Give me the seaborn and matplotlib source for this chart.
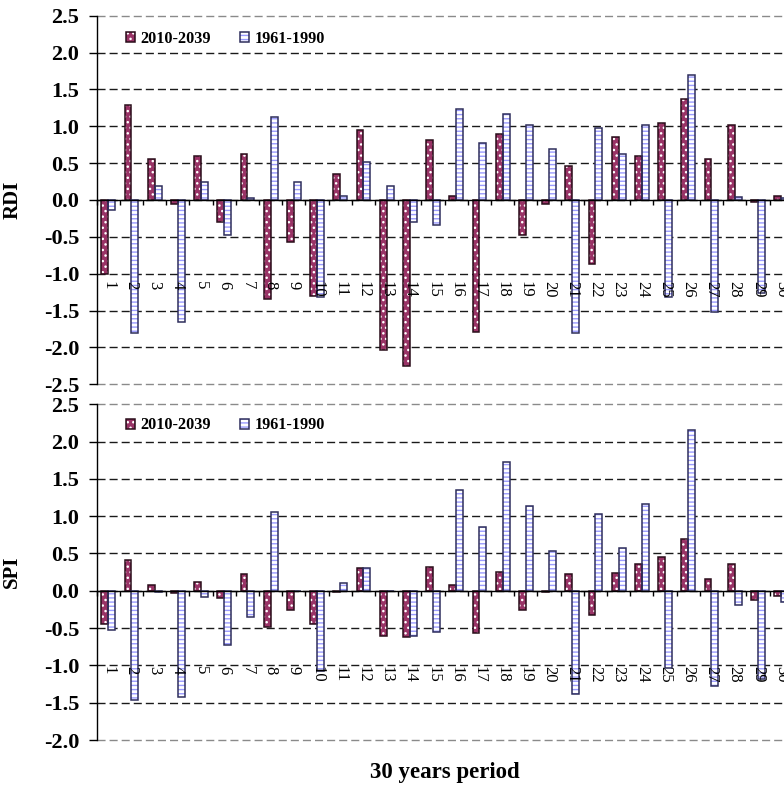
import numpy as np
import pandas as pd
import matplotlib
matplotlib.use("Agg")
import matplotlib.pyplot as plt
from matplotlib.patches import Patch, Rectangle
from matplotlib.ticker import FixedLocator
import seaborn as sns

# ---------------- data ----------------
periods = [str(i) for i in range(1, 31)]
series_names = ["2010-2039", "1961-1990"]

rdi_2010 = [-1.00, 1.29, 0.55, -0.05, 0.60, -0.30, 0.62, -1.34, -0.57, -1.30,
            0.35, 0.95, -2.04, -2.25, 0.82, 0.06, -1.79, 0.89, -0.47, -0.05,
            0.46, -0.87, 0.86, 0.59, 1.05, 1.37, 0.55, 1.02, -0.03, 0.05]
rdi_1961 = [-0.13, -1.80, 0.19, -1.66, 0.24, -0.48, 0.03, 1.13, 0.25, -1.31,
            0.05, 0.52, 0.19, -0.30, -0.34, 1.24, 0.77, 1.16, 1.02, 0.69,
            -1.81, 0.98, 0.62, 1.02, -1.31, 1.70, -1.52, 0.04, -1.26, 0.03]
spi_2010 = [-0.45, 0.41, 0.08, -0.03, 0.12, -0.09, 0.22, -0.48, -0.26, -0.45,
            -0.01, 0.30, -0.61, -0.62, 0.32, 0.08, -0.57, 0.25, -0.26, -0.01,
            0.22, -0.32, 0.24, 0.36, 0.45, 0.70, 0.16, 0.36, -0.12, -0.07]
spi_1961 = [-0.53, -1.46, -0.01, -1.42, -0.08, -0.72, -0.35, 1.05, 0.00, -1.08,
            0.11, 0.31, 0.00, -0.60, -0.55, 1.35, 0.85, 1.72, 1.14, 0.54,
            -1.38, 1.03, 0.58, 1.16, -1.03, 2.15, -1.28, -0.19, -1.18, -0.15]

x_title = "30 years period"

# ---------------- style ----------------
sns.set_theme(style="white")
plt.rcParams['font.family'] = ['Liberation Serif', 'DejaVu Serif']
plt.rcParams['axes.unicode_minus'] = False
plt.rcParams['hatch.linewidth'] = 1.0
for k in ['text.color', 'axes.labelcolor', 'xtick.color', 'ytick.color', 'axes.edgecolor']:
    plt.rcParams[k] = 'black'

MAROON = '#993366'
STYLES = [dict(face=MAROON, hatch='...', hc='white', ec='#2a0d1a'),
          dict(face='white', hatch='----', hc='#9a9aff', ec='#2e2e5c')]

fig = plt.figure(figsize=(7.84, 7.87), dpi=100)
ax1 = fig.add_axes([0.1233, 0.5117, 0.8878, 0.4684])
ax2 = fig.add_axes([0.1233, 0.0597, 0.8878, 0.4266])


def draw(ax, v_new, v_old, ylim, ylabel, label_pad):
    df = pd.DataFrame({
        'period': periods * 2,
        'value': list(v_new) + list(v_old),
        'series': [series_names[0]] * len(periods) + [series_names[1]] * len(periods),
    })
    sns.barplot(data=df, x='period', y='value', hue='series', order=periods,
                hue_order=series_names, palette=[s['face'] for s in STYLES],
                width=0.6, errorbar=None, legend=False, saturation=1, ax=ax)
    for cont, st in zip(ax.containers, STYLES):
        for p in cont:
            p.set_hatch(st['hatch'])
            p.set_edgecolor(st['hc'])
            p.set_linewidth(0)
            ax.add_patch(Rectangle(p.get_xy(), p.get_width(), p.get_height(),
                                   fill=False, edgecolor=st['ec'], linewidth=1.1,
                                   zorder=p.get_zorder() + 0.01))

    n = len(periods)
    ax.set_xlim(-0.5, n - 0.5)
    ax.set_ylim(*ylim)
    yt = np.arange(ylim[0], ylim[1] + 0.001, 0.5)
    ax.set_yticks(yt, [f'{t:.1f}' for t in yt], fontsize=16, fontweight='bold')

    ax.grid(axis='y', color='#1a1a1a', linestyle=(0, (5.8, 2.9)), linewidth=1.0)
    ax.grid(axis='x', visible=False)
    ax.set_axisbelow(True)
    # category labels / zero line drawn over the bars, grid stays below
    ax.xaxis.set_zorder(5)
    ticks = ax.yaxis.get_major_ticks()
    for t in (ticks[0], ticks[-1]):
        t.gridline.set_color('#8a8a8a')
        t.gridline.set_clip_on(False)

    for s in ['top', 'right']:
        ax.spines[s].set_visible(False)
    ax.spines['left'].set_linewidth(1.0)
    ax.spines['bottom'].set_position(('data', 0))
    ax.spines['bottom'].set_linewidth(1.0)
    ax.spines['bottom'].set_zorder(3)

    ax.tick_params(axis='y', which='major', left=True, direction='out', length=5.5,
                   width=1, color='black', pad=7)
    ax.xaxis.set_minor_locator(FixedLocator(np.arange(n + 1) - 0.5))
    ax.tick_params(axis='x', which='major', bottom=True, length=0, pad=label_pad,
                   labelsize=12, labelrotation=-90)
    ax.tick_params(axis='x', which='minor', bottom=True, direction='out', length=3.5,
                   width=1, color='black')

    ax.set_ylabel(ylabel, fontsize=15, fontweight='bold')
    ax.yaxis.set_label_coords(-0.107, 0.5)
    ax.set_xlabel('')

    handles = []
    for st in STYLES:
        handles.append((Patch(facecolor=st['face'], edgecolor=st['hc'], hatch=st['hatch'], linewidth=0),
                        Patch(facecolor='none', edgecolor=st['ec'], linewidth=1.1)))
    ax.legend(handles, series_names, loc='center left', bbox_to_anchor=(0.042, 0.937),
              ncol=2, frameon=False, prop={'weight': 'bold', 'size': 11.7},
              handlelength=0.55, handleheight=0.55, handletextpad=0.35,
              columnspacing=1.8, borderpad=0, borderaxespad=0)


draw(ax1, rdi_2010, rdi_1961, (-2.5, 2.5), 'RDI', 58)
draw(ax2, spi_2010, spi_1961, (-2.0, 2.5), 'SPI', 54)

ax2.set_xlabel(x_title, fontsize=16.5, fontweight='bold')
ax2.xaxis.set_label_coords(0.5, -0.098)
ax2.xaxis.label.set_va('center')

fig.savefig('out.png', dpi=100)
